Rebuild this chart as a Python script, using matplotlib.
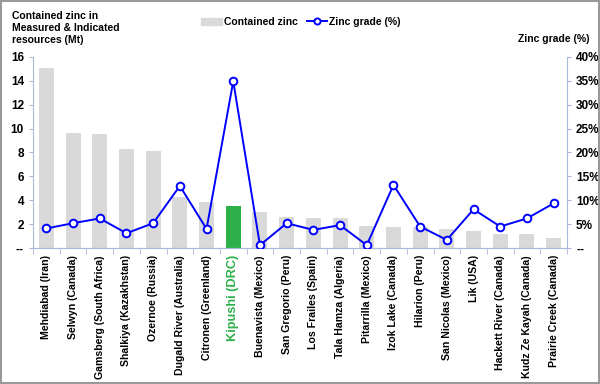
import matplotlib.pyplot as plt
import numpy as np
from matplotlib.ticker import FuncFormatter
from matplotlib.patches import Rectangle

plt.rcParams['font.family'] = ['Liberation Sans', 'DejaVu Sans']
plt.rcParams['font.weight'] = 'bold'

mines = ["Mehdiabad (Iran)", "Selwyn (Canada)", "Gamsberg (South Africa)",
         "Shalkiya (Kazakhstan)", "Ozernoe (Russia)", "Dugald River (Australia)",
         "Citronen (Greenland)", "Kipushi (DRC)", "Buenavista (Mexico)",
         "San Gregorio (Peru)", "Los Frailes (Spain)", "Tala Hamza (Algeria)",
         "Pitarrilla (Mexico)", "Izok Lake (Canada)", "Hilarion (Peru)",
         "San Nicolas (Mexico)", "Lik (USA)", "Hackett River (Canada)",
         "Kudz Ze Kayah (Canada)", "Prairie Creek (Canada)"]
contained = [15.05, 9.65, 9.57, 8.26, 8.12, 4.27, 3.88, 3.54, 3.04, 2.57,
             2.5, 2.5, 1.84, 1.79, 1.73, 1.59, 1.45, 1.2, 1.14, 0.84]
grade = [4.1, 5.2, 6.2, 3.1, 5.2, 13.0, 4.0, 34.9, 0.6, 5.2,
         3.8, 4.8, 0.6, 13.2, 4.5, 1.7, 8.1, 4.5, 6.2, 9.35]
highlight = "Kipushi (DRC)"

axis_col = "#A9B8D6"
x = np.arange(len(mines))
colors = ["#2DB04A" if m == highlight else "#D9D9D9" for m in mines]

fig = plt.figure(figsize=(6, 3.84), dpi=100)
ax = fig.add_axes([0.055, 0.354, 0.89, 0.498])
ax.bar(x, contained, width=0.56, color=colors, zorder=2)
ax.set_xlim(-0.5, len(mines) - 0.5)
ax.set_ylim(0, 16)
ax.set_yticks(range(0, 17, 2))
ax.yaxis.set_major_formatter(FuncFormatter(lambda v, p: "--" if v == 0 else f"{v:.0f}"))

ax2 = ax.twinx()
ax2.plot(x, grade, color="#0000FF", lw=1.4, marker="o", ms=5.5,
         mfc="white", mec="#0000FF", mew=1.4, zorder=3)
ax2.set_ylim(0, 40)
ax2.set_yticks(range(0, 41, 5))
ax2.yaxis.set_major_formatter(FuncFormatter(lambda v, p: "--" if v == 0 else f"{v:.0f}%"))

for a in (ax, ax2):
    a.spines["top"].set_visible(False)
    a.spines["left"].set_color(axis_col)
    a.spines["right"].set_color(axis_col)
    a.spines["bottom"].set_color(axis_col)
    a.tick_params(axis="y", colors=axis_col, length=3, labelsize=8.5, labelcolor="black")
ax.spines["right"].set_visible(False)
ax2.spines["left"].set_visible(False)

ax.set_xticks(x)
ax.set_xticklabels(mines, rotation=90, fontsize=7.6)
ax.tick_params(axis="x", length=0, pad=5)
ax.set_xticks(np.arange(-0.5, len(mines), 1), minor=True)
ax.tick_params(axis="x", which="minor", length=4, color=axis_col)
for lbl in ax.get_xticklabels():
    if lbl.get_text() == highlight:
        lbl.set_color("#2DB04A")
        lbl.set_fontsize(9.2)

fig.text(0.02, 0.972, "Contained zinc in\nMeasured & Indicated\nresources (Mt)",
         ha="left", va="top", fontsize=7.5, linespacing=1.25)
fig.text(0.982, 0.885, "Zinc grade (%)", ha="right", va="bottom", fontsize=7.5)

fig.legend(handles=[ax.containers[0].patches[0], ax2.lines[0]],
           labels=["Contained zinc", "Zinc grade (%)"],
           loc="center", bbox_to_anchor=(0.502, 0.943), ncol=2, frameon=False,
           fontsize=7.5, handlelength=2.0, handletextpad=0.2, columnspacing=0.8,
           markerscale=0.8)
leg = fig.legends[0]
leg.legend_handles[0].set_color("#D9D9D9")

fig.patches.append(Rectangle((0.002, 0.003), 0.996, 0.994, transform=fig.transFigure,
                             fill=False, edgecolor="#999999", lw=1.5))

fig.savefig("out.png", dpi=100)
